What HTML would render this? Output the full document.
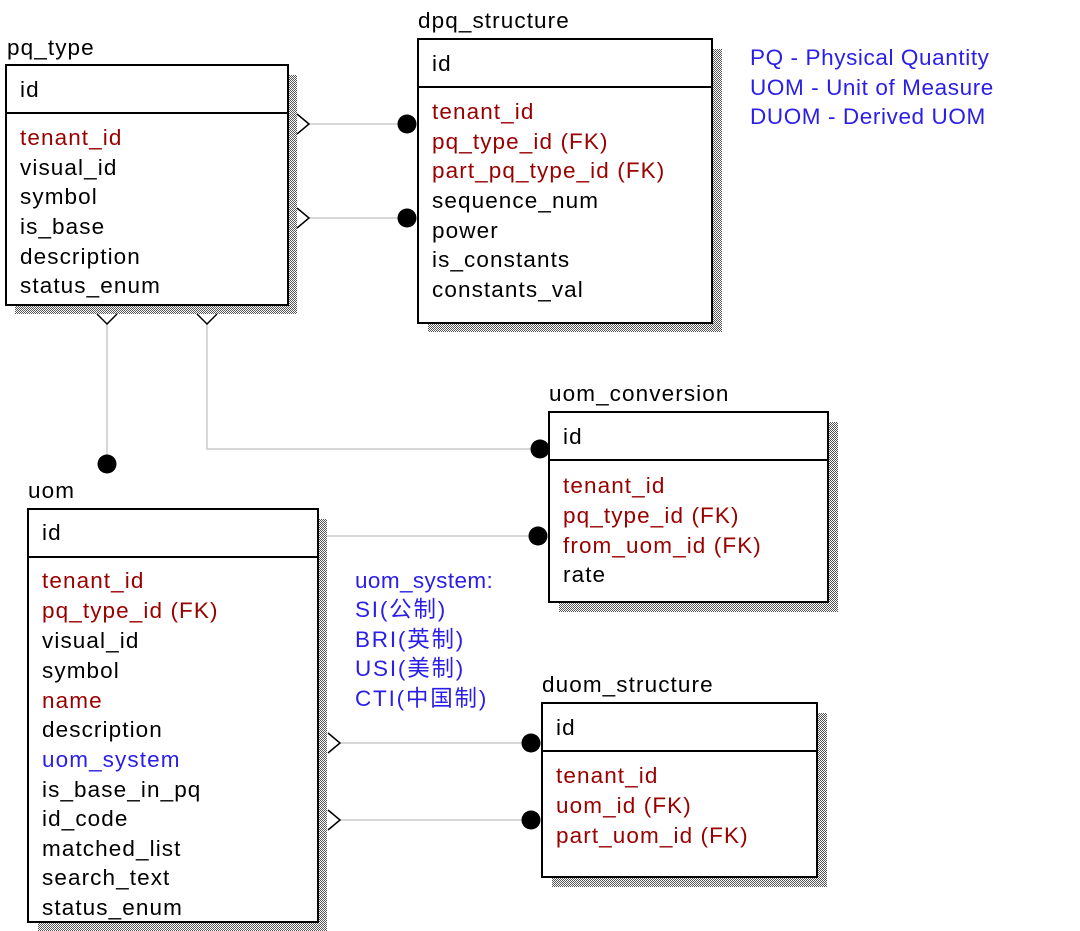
<!DOCTYPE html>
<html><head><meta charset="utf-8"><style>
html,body{margin:0;padding:0;background:#fff;}
svg{display:block;}
text{font-family:"Liberation Sans","Noto Sans CJK SC",sans-serif;font-size:22.5px;letter-spacing:1.1px;}
.k{fill:#000}.r{fill:#990000}.b{fill:#2a1ee8}
.lg{letter-spacing:0.6px;}
</style></head><body>
<svg width="1080" height="931" viewBox="0 0 1080 931" xmlns="http://www.w3.org/2000/svg">
<defs>
<pattern id="sh" width="2" height="2" patternUnits="userSpaceOnUse">
<rect width="2" height="2" fill="#fff"/><rect width="1" height="1" fill="#555"/><rect x="1" y="1" width="1" height="1" fill="#555"/>
</pattern>
</defs>
<g fill="url(#sh)">
<rect x="15" y="75" width="282" height="239"/>
<rect x="428" y="49" width="294" height="283"/>
<rect x="559" y="422" width="279" height="190"/>
<rect x="552" y="713" width="275" height="174"/>
<rect x="38" y="519" width="289" height="412"/>
</g>
<g fill="#fff" stroke="#000" stroke-width="2">
<rect x="6" y="65" width="282" height="240"/>
<rect x="418" y="39" width="294" height="284"/>
<rect x="549" y="412" width="279" height="190"/>
<rect x="542" y="703" width="275" height="174"/>
<rect x="28" y="509" width="290" height="413"/>
</g>
<g stroke="#000" stroke-width="2">
<line x1="6" y1="113" x2="288" y2="113"/>
<line x1="418" y1="87" x2="712" y2="87"/>
<line x1="549" y1="460" x2="828" y2="460"/>
<line x1="542" y1="751" x2="817" y2="751"/>
<line x1="28" y1="557" x2="318" y2="557"/>
</g>
<g stroke="#ccc" stroke-width="1.5" fill="none">
<line x1="308" y1="124" x2="400" y2="124"/>
<line x1="308" y1="218" x2="400" y2="218"/>
<line x1="107" y1="324" x2="107" y2="458"/>
<polyline points="207,324 207,449 532,449"/>
<line x1="327" y1="536" x2="530" y2="536"/>
<line x1="340" y1="743" x2="523" y2="743"/>
<line x1="340" y1="820" x2="523" y2="820"/>
</g>
<g stroke="#000" stroke-width="1.5" fill="none">
<polyline points="297,114 309,124 297,134"/>
<polyline points="297,208 309,218 297,228"/>
<polyline points="97,314 107,324 117,314"/>
<polyline points="197,314 207,324 217,314"/>
<polyline points="328,733 340,743 328,753"/>
<polyline points="328,810 340,820 328,830"/>
</g>
<g fill="#000">
<circle cx="407" cy="124" r="9.5"/>
<circle cx="407" cy="218" r="9.5"/>
<circle cx="107" cy="464" r="9.5"/>
<circle cx="540" cy="449" r="9.5"/>
<circle cx="538" cy="536" r="9.5"/>
<circle cx="531" cy="743" r="9.5"/>
<circle cx="531" cy="820" r="9.5"/>
</g>
<text class="k" x="7" y="55">pq_type</text>
<text class="k" x="20" y="97">id</text>
<text class="r" x="20" y="145">tenant_id</text>
<text class="k" x="20" y="175">visual_id</text>
<text class="k" x="20" y="204">symbol</text>
<text class="k" x="20" y="234">is_base</text>
<text class="k" x="20" y="264">description</text>
<text class="k" x="20" y="293">status_enum</text>

<text class="k" x="418" y="28">dpq_structure</text>
<text class="k" x="432" y="71">id</text>
<text class="r" x="432" y="119">tenant_id</text>
<text class="r" x="432" y="149">pq_type_id (FK)</text>
<text class="r" x="432" y="178">part_pq_type_id (FK)</text>
<text class="k" x="432" y="208">sequence_num</text>
<text class="k" x="432" y="238">power</text>
<text class="k" x="432" y="267">is_constants</text>
<text class="k" x="432" y="297">constants_val</text>

<text class="b lg" x="750" y="65">PQ - Physical Quantity</text>
<text class="b lg" x="750" y="95">UOM - Unit of Measure</text>
<text class="b lg" x="750" y="124">DUOM - Derived UOM</text>

<text class="k" x="549" y="401">uom_conversion</text>
<text class="k" x="563" y="444">id</text>
<text class="r" x="563" y="493">tenant_id</text>
<text class="r" x="563" y="523">pq_type_id (FK)</text>
<text class="r" x="563" y="553">from_uom_id (FK)</text>
<text class="k" x="563" y="582">rate</text>

<text class="k" x="542" y="692">duom_structure</text>
<text class="k" x="556" y="735">id</text>
<text class="r" x="556" y="783">tenant_id</text>
<text class="r" x="556" y="813">uom_id (FK)</text>
<text class="r" x="556" y="843">part_uom_id (FK)</text>

<text class="k" x="28" y="498">uom</text>
<text class="k" x="42" y="540">id</text>
<text class="r" x="42" y="588">tenant_id</text>
<text class="r" x="42" y="618">pq_type_id (FK)</text>
<text class="k" x="42" y="648">visual_id</text>
<text class="k" x="42" y="678">symbol</text>
<text class="r" x="42" y="708">name</text>
<text class="k" x="42" y="737">description</text>
<text class="b" x="42" y="767">uom_system</text>
<text class="k" x="42" y="797">is_base_in_pq</text>
<text class="k" x="42" y="826">id_code</text>
<text class="k" x="42" y="856">matched_list</text>
<text class="k" x="42" y="885">search_text</text>
<text class="k" x="42" y="915">status_enum</text>

<text class="b" x="355" y="588" style="letter-spacing:0.4px">uom_system:</text>
<text class="b" x="355" y="617" style="letter-spacing:1.8px">SI(公制)</text>
<text class="b" x="355" y="647" style="letter-spacing:1.8px">BRI(英制)</text>
<text class="b" x="355" y="676" style="letter-spacing:1.8px">USI(美制)</text>
<text class="b" x="355" y="706" style="letter-spacing:1.8px">CTI(中国制)</text>
</svg>
</body></html>
